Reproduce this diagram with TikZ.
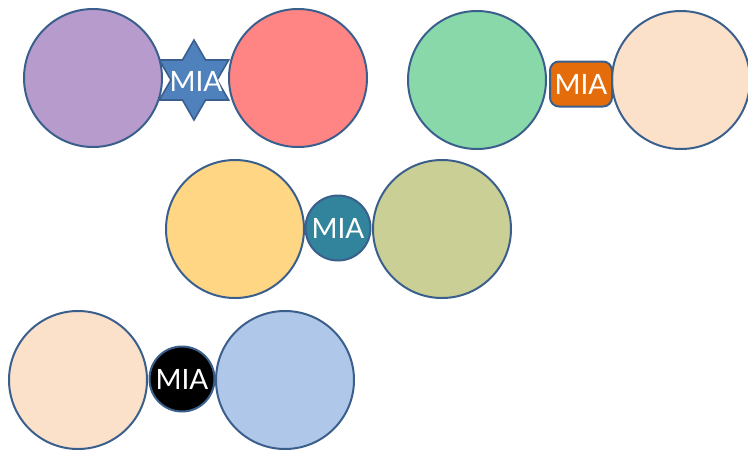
\documentclass[tikz,border=0pt]{standalone}
\usepackage{fontspec}
\usetikzlibrary{calc}
\setmainfont{Lato}
\definecolor{edge}{HTML}{3B5F8C}
\definecolor{cpurple}{HTML}{B89BCD}
\definecolor{cred}{HTML}{FF8585}
\definecolor{cgreen}{HTML}{88D8AA}
\definecolor{cpeach}{HTML}{FBE0CA}
\definecolor{cyellow}{HTML}{FFD683}
\definecolor{colive}{HTML}{CACF95}
\definecolor{cblue}{HTML}{AFC7E9}
\definecolor{cteal}{HTML}{31849B}
\definecolor{corange}{HTML}{E46C0A}
\definecolor{cstar}{HTML}{4F81BD}
\begin{document}
\begin{tikzpicture}[x=1pt,y=-1pt,
  big/.style={circle,draw=edge,line width=2pt,minimum size=138pt,inner sep=0pt},
  lbl/.style={text=white,font=\fontsize{28}{30}\selectfont,inner sep=0pt},
  small/.style={circle,draw=edge,line width=2pt,minimum size=65pt,inner sep=0pt,text=white,font=\fontsize{28}{30}\selectfont}]
\useasboundingbox (0,0) rectangle (748,451);
% row 1 left
\coordinate (sc) at (194,80);
\path[fill=cstar,draw=edge,line width=1.6pt]
  ($(sc)+(90:40)$) -- ($(sc)+(120:23.1)$) -- ($(sc)+(150:40)$) -- ($(sc)+(180:23.1)$)
  -- ($(sc)+(210:40)$) -- ($(sc)+(240:23.1)$) -- ($(sc)+(270:40)$) -- ($(sc)+(300:23.1)$)
  -- ($(sc)+(330:40)$) -- ($(sc)+(0:23.1)$) -- ($(sc)+(30:40)$) -- ($(sc)+(60:23.1)$) -- cycle;
\node[big,fill=cpurple] (p1) at (93,78) {};
\node[big,fill=cred] (r1) at (298,78) {};
\node[lbl] (m1) at (196,81) {MIA};
% row 1 right
\node[big,fill=cgreen] (g1) at (477,80) {};
\node[big,fill=cpeach] (q1) at (681,80) {};
\node[draw=edge,line width=2pt,fill=corange,rounded corners=9pt,minimum width=62pt,minimum height=45pt,inner sep=0pt,text=white,font=\fontsize{28}{30}\selectfont] (m2) at (581,84) {MIA};
% row 2
\node[big,fill=cyellow] (y2) at (235,229) {};
\node[big,fill=colive] (o2) at (442,229) {};
\node[small,fill=cteal] (m3) at (338,228) {MIA};
% row 3
\node[big,fill=cpeach] (q3) at (78,380) {};
\node[big,fill=cblue] (b3) at (285,380) {};
\node[small,fill=black] (m4) at (182,379) {MIA};
\end{tikzpicture}
\end{document}
